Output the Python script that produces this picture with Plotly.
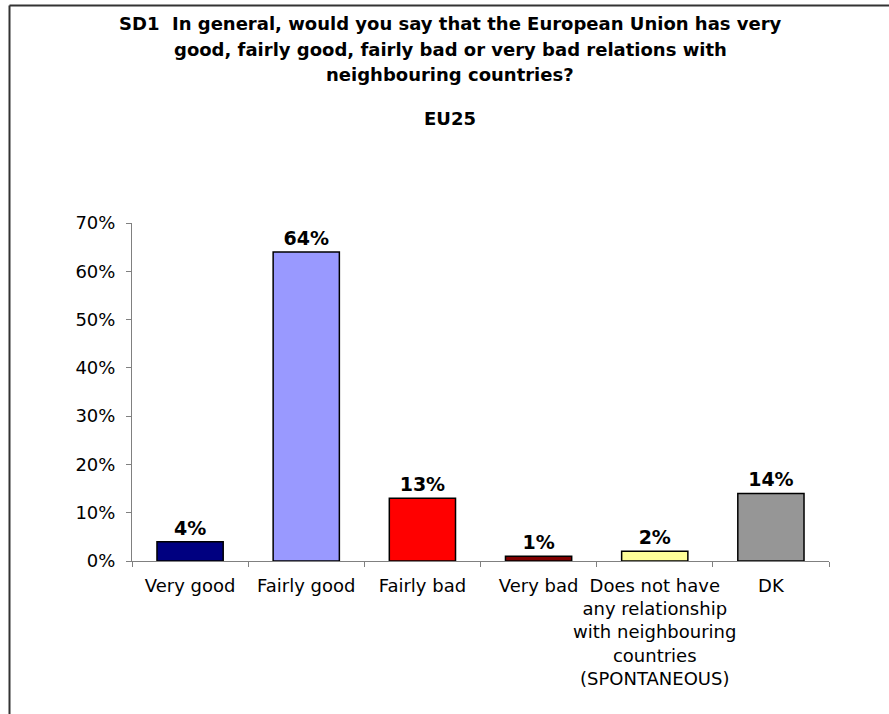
import plotly.graph_objects as go

W, H = 889, 714
L, R, T, B = 132, 60, 223, 153
PW, PH = W - L - R, H - T - B

categories = ["Very good", "Fairly good", "Fairly bad", "Very bad",
              "Does not have<br>any relationship<br>with neighbouring<br>countries<br>(SPONTANEOUS)", "DK"]
values = [4, 64, 13, 1, 2, 14]
colors = ["#000080", "#9999FF", "#FF0000", "#800000", "#FFFF99", "#969696"]
title_lines = ["SD1  In general, would you say that the European Union has very",
               "good, fairly good, fairly bad or very bad relations with",
               "neighbouring countries?"]
subtitle = "EU25"
y_ticks = [0, 10, 20, 30, 40, 50, 60, 70]


def px(x):
    return (x - L) / PW


def py(y):
    return (H - B - y) / PH


fig = go.Figure(go.Bar(
    x=categories, y=values,
    marker=dict(color=colors, line=dict(color="#000000", width=1.5)),
    text=[f"<b>{v}%</b>" for v in values], textposition="outside",
    textfont=dict(family="DejaVu Sans", size=19, color="#000000"),
    cliponaxis=False,
))

font = "DejaVu Sans"
annotations = []
for i, (line, yy) in enumerate(zip(title_lines, [23, 49, 74])):
    annotations.append(dict(text=f"<b>{line}</b>", x=px(450), y=py(yy), xref="paper", yref="paper",
                            showarrow=False, xanchor="center", yanchor="middle",
                            font=dict(family=font, size=18, color="#000000")))
annotations.append(dict(text=f"<b>{subtitle}</b>", x=px(450), y=py(118), xref="paper", yref="paper",
                        showarrow=False, xanchor="center", yanchor="middle",
                        font=dict(family=font, size=18, color="#000000")))

shapes = [
    dict(type="line", xref="paper", yref="paper", x0=px(9.5), x1=px(895), y0=py(5.5), y1=py(5.5),
         line=dict(color="#333333", width=2)),
    dict(type="line", xref="paper", yref="paper", x0=px(9.5), x1=px(9.5), y0=py(5.5), y1=py(720),
         line=dict(color="#333333", width=2)),
]

fig.update_layout(
    width=W, height=H,
    margin=dict(l=L, r=R, t=T, b=B),
    paper_bgcolor="#FFFFFF", plot_bgcolor="#FFFFFF",
    showlegend=False,
    bargap=0.43,
    annotations=annotations,
    shapes=shapes,
    font=dict(family=font, color="#000000"),
)
fig.update_xaxes(
    showline=True, linecolor="#808080", linewidth=1,
    ticks="outside", ticklen=5, tickcolor="#808080", tickson="boundaries",
    tickfont=dict(family=font, size=18, color="#000000"),
    showgrid=False, tickangle=0, ticklabelstandoff=8,
)
fig.update_yaxes(
    range=[0, 70], tickvals=y_ticks, ticktext=[f"{v}%" for v in y_ticks],
    showline=True, linecolor="#808080", linewidth=1,
    ticks="outside", ticklen=5, tickcolor="#808080",
    tickfont=dict(family=font, size=18, color="#000000"),
    showgrid=False, zeroline=False, ticklabelstandoff=7,
)

fig.write_html("out.html", config={"displayModeBar": False},
               post_script="document.body.style.margin='0';document.body.style.overflow='hidden';")
